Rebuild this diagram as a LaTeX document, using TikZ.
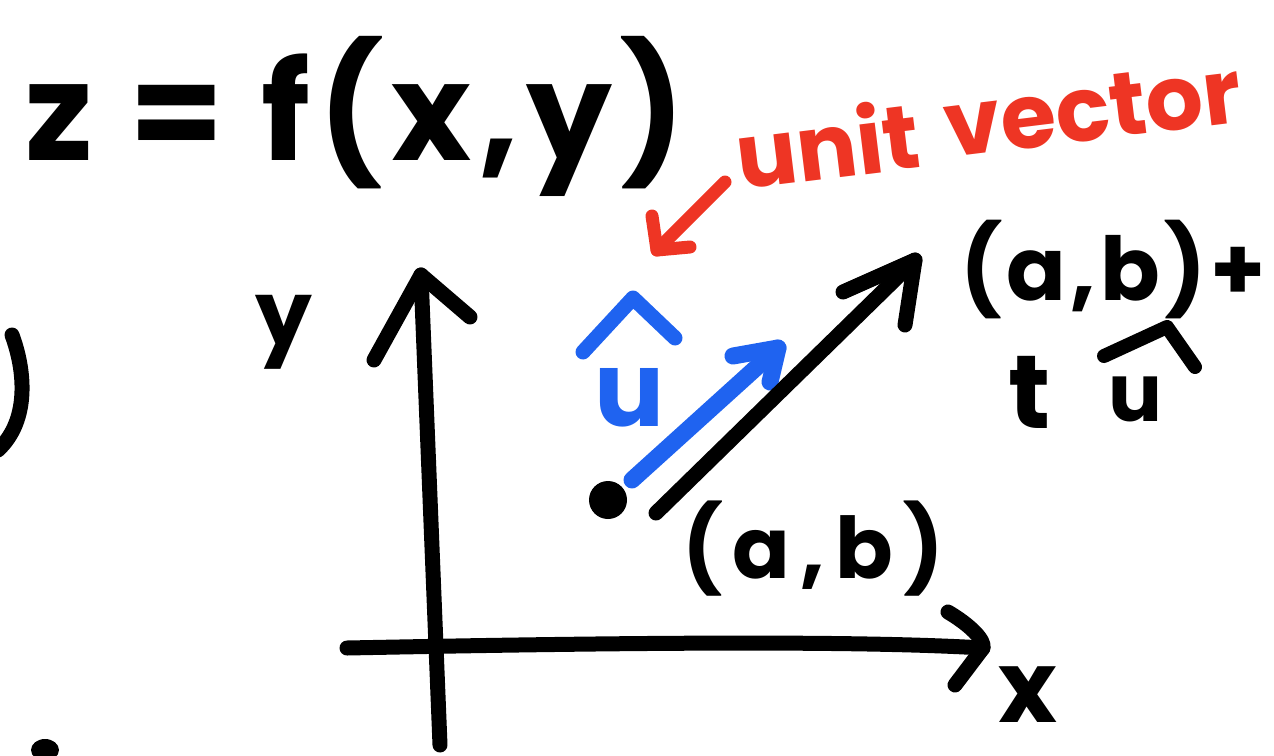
\documentclass[tikz,border=0pt]{standalone}
\usepackage{fontspec}
\setmainfont{Poppins}
\definecolor{inkred}{HTML}{EE3524}
\definecolor{inkblue}{HTML}{1F63F0}
\begin{document}
\begin{tikzpicture}[x=1pt,y=-1pt,
  ink/.style={line width=15pt,line cap=round,line join=round},
  hand/.style={font=\fontsize{#1}{#1}\selectfont\bfseries, inner sep=0pt, anchor=base west},
]
\useasboundingbox (0,0) rectangle (1274,755);
% title
\node[hand=136, font=\fontsize{136}{136}\selectfont\bfseries\addfontfeature{LetterSpace=6}] (title) at (25,160) {z = f(x,y)};
% red label and arrow
\node[hand=90, text=inkred, rotate=7] (unitlbl) at (740,190) {unit};
\node[hand=90, text=inkred, rotate=7] (veclbl) at (948,158) {vector};
\coordinate (rs) at (725,182);
\coordinate (rt) at (657,250);
\draw[ink, inkred, line width=13pt] (rs) -- (rt);
\draw[ink, inkred, line width=13pt] (652,216) -- (rt) -- (690,247);
% axes
\coordinate (ybot) at (440,745);
\coordinate (ytop) at (421,275);
\draw[ink] (ybot) -- (ytop);
\draw[ink] (374,360) -- (ytop) -- (470,317);
\coordinate (xleft) at (347,648);
\coordinate (xtip) at (983,648);
\draw[ink] (xleft) .. controls (600,643) and (850,640) .. (xtip);
\draw[ink] (948,612) .. controls (970,625) and (985,640) .. (xtip) -- (955,685);
\node[hand=90] (ylbl) at (255,345) {y};
\node[hand=100] (xlbl) at (998,722) {x};
% point and vectors
\node[circle, fill=black, minimum size=38pt, inner sep=0pt] (dot) at (608,500) {};
\coordinate (bt) at (778,348);
\draw[ink, inkblue, line width=17pt] (dot.center) ++(24,-20) -- (bt);
\draw[ink, inkblue, line width=17pt] (733,356) -- (bt) -- (770,382);
\coordinate (ks) at (656,513);
\coordinate (kt) at (915,260);
\draw[ink] (ks) -- (kt);
\draw[ink] (843,292) -- (kt) -- (905,325);
% blue u-hat
\node[hand=104, text=inkblue] (ublue) at (594,426) {u};
\draw[ink, inkblue, line width=15pt] (583,352) -- (633,298) -- (675,338);
% labels
\node[hand=88, font=\fontsize{88}{88}\selectfont\bfseries\addfontfeature{LetterSpace=5}] (abt) at (960,300) {(a,b)+};
\node[hand=104] (tlbl) at (1008,428) {t};
\node[hand=80] (ublk) at (1108,421) {u};
\draw[ink, line width=14pt] (1104,356) -- (1167,327) -- (1195,367);
\node[hand=85, font=\fontsize{85}{85}\selectfont\bfseries\addfontfeature{LetterSpace=12}] (ab) at (682,578) {(a,b)};
% partial strokes at the left edge
\draw[ink] (12,335) .. controls (25,370) and (30,420) .. (-2,450);
\fill (45,750) ellipse (14 and 11);
\end{tikzpicture}
\end{document}
